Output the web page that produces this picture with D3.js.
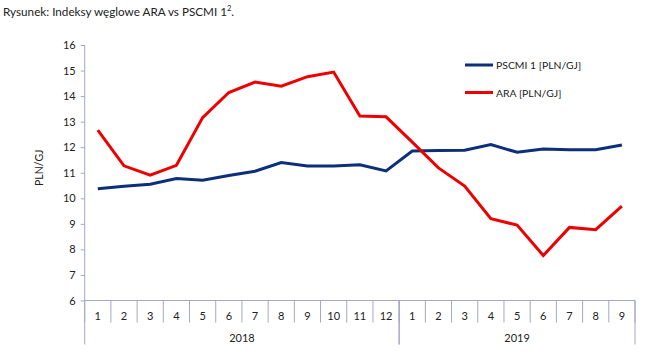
<!DOCTYPE html>
<html><head><meta charset="utf-8">
<script src="https://cdn.jsdelivr.net/npm/d3@7/dist/d3.min.js"></script>
<style>body{margin:0;background:#fff}svg{display:block}text{font-family:Lato,"Open Sans",sans-serif}</style>
</head><body>
<svg id="c" width="645" height="359"></svg>
<script>
const months = ["1","2","3","4","5","6","7","8","9","10","11","12","1","2","3","4","5","6","7","8","9"];
const years = [{label:"2018", count:12},{label:"2019", count:9}];
const pscmi = [10.37,10.47,10.55,10.77,10.71,10.89,11.06,11.40,11.26,11.26,11.31,11.07,11.85,11.87,11.88,12.10,11.80,11.93,11.90,11.90,12.09];
const ara = [12.67,11.27,10.91,11.29,13.16,14.14,14.55,14.39,14.76,14.94,13.22,13.19,12.2,11.19,10.48,9.2,8.95,7.76,8.86,8.77,9.69];
const yTicks = [6,7,8,9,10,11,12,13,14,15,16];
const seriesNames = ["PSCMI 1 [PLN/GJ]","ARA [PLN/GJ]"];
const colors = ["#0b2f7a","#ee0000"];

const svg = d3.select("#c");
const L=84.7, R=635, T=45, B=300.5;
const idx = months.map((m,i)=>i);
const x = d3.scaleBand().domain(idx).range([L,R]);
const y = d3.scaleLinear().domain([6,16]).range([B,T]);
const axisCol = "#a4a8c4";

// title
const t = svg.append("text").attr("x",3).attr("y",16).attr("font-size",11.7).attr("fill","#222");
t.append("tspan").text("Rysunek: Indeksy węglowe ARA vs PSCMI 1");
t.append("tspan").attr("font-size",7.5).attr("dy",-5).text("2");
t.append("tspan").attr("dy",5).text(".");

// y axis
const ya = svg.append("g").attr("transform",`translate(${L},0)`).call(d3.axisLeft(y).tickValues(yTicks).tickSize(4).tickPadding(5));
ya.selectAll("path,line").attr("stroke",axisCol);
ya.select("path").attr("d",`M0,${T}V${B}`);
ya.selectAll("text").attr("font-size",11).attr("fill","#222").style("font-family","Lato,sans-serif");

svg.append("text").attr("transform",`translate(43,${(T+B)/2-5}) rotate(-90)`).attr("text-anchor","middle")
  .attr("font-size",10.5).attr("fill","#222").text("PLN/GJ");

// x axis line
svg.append("line").attr("x1",L).attr("x2",R).attr("y1",B).attr("y2",B).attr("stroke",axisCol);
// month ticks
const bounds = idx.map(i=>x(i)).concat([R]);
svg.selectAll(".mt").data(bounds).join("line").attr("x1",d=>d).attr("x2",d=>d).attr("y1",B).attr("y2",B+22).attr("stroke",axisCol);
svg.selectAll(".ml").data(idx).join("text").attr("x",i=>x(i)+x.bandwidth()/2).attr("y",B+19).attr("text-anchor","middle")
  .attr("font-size",11).attr("fill","#222").text(i=>months[i]);
// year groups
let start=0;
years.forEach(yr=>{
  const x0 = x(start), x1 = start+yr.count<months.length ? x(start+yr.count) : R;
  svg.append("line").attr("x1",x0).attr("x2",x0).attr("y1",B).attr("y2",B+44).attr("stroke",axisCol);
  svg.append("line").attr("x1",x1).attr("x2",x1).attr("y1",B).attr("y2",B+44).attr("stroke",axisCol);
  svg.append("text").attr("x",(x0+x1)/2).attr("y",B+41).attr("text-anchor","middle").attr("font-size",11).attr("fill","#222").text(yr.label);
  start+=yr.count;
});

// lines
const line = d3.line().x((d,i)=>x(i)+x.bandwidth()/2).y(d=>y(d));
[pscmi,ara].forEach((s,k)=>{
  svg.append("path").attr("d",line(s)).attr("fill","none").attr("stroke",colors[k]).attr("stroke-width",3).attr("stroke-linejoin","miter");
});

// legend
seriesNames.forEach((n,k)=>{
  const ly = 65 + k*27.5;
  svg.append("line").attr("x1",465).attr("x2",493).attr("y1",ly).attr("y2",ly).attr("stroke",colors[k]).attr("stroke-width",3);
  svg.append("text").attr("x",496).attr("y",ly+4).attr("font-size",10.4).attr("fill","#222").text(n);
});
</script>
</body></html>
